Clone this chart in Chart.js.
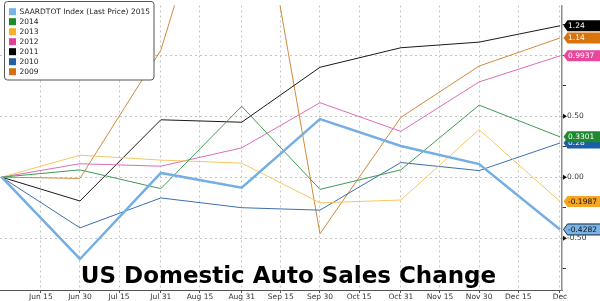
<!DOCTYPE html>
<html>
<head>
<meta charset="utf-8">
<script src="https://cdn.jsdelivr.net/npm/chart.js@4/dist/chart.umd.min.js"></script>
<style>
html,body{margin:0;padding:0;background:#fff;}
#wrap{position:relative;width:600px;height:301px;}
</style>
</head>
<body>
<div id="wrap"><canvas id="c" width="600" height="301"></canvas></div>
<script>
// ---- data ----
const dates = ['2015-05-31','2015-06-30','2015-07-31','2015-08-31','2015-09-30','2015-10-31','2015-11-30','2015-12-31'];
const seriesNames = ['SAARDTOT Index (Last Price) 2015','2014','2013','2012','2011','2010','2009'];
const s2015 = [0, -0.67, 0.035, -0.086, 0.476, 0.255, 0.107, -0.4282];
const s2014 = [0, 0.06, -0.094, 0.58, -0.10, 0.06, 0.59, 0.3301];
const s2013 = [0, 0.18, 0.14, 0.115, -0.21, -0.187, 0.39, -0.1987];
const s2012 = [0, 0.11, 0.09, 0.24, 0.61, 0.375, 0.78, 0.9937];
const s2011 = [0, -0.195, 0.47, 0.45, 0.90, 1.06, 1.106, 1.24];
const s2010 = [0, -0.415, -0.17, -0.25, -0.27, 0.12, 0.054, 0.28];
const s2009 = [0, -0.01, 1.04, 3.2, -0.463, 0.49, 0.91, 1.14];
const lastLabels = ['-0.4282','0.3301','-0.1987','0.9937','1.24','0.28','1.14'];
const tickDates = ['2015-06-15','2015-06-30','2015-07-15','2015-07-31','2015-08-15','2015-08-31','2015-09-15','2015-09-30','2015-10-15','2015-10-31','2015-11-15','2015-11-30','2015-12-15','2015-12-31'];
const tickLabels = ['Jun 15','Jun 30','Jul 15','Jul 31','Aug 15','Aug 31','Sep 15','Sep 30','Oct 15','Oct 31','Nov 15','Nov 30','Dec 15','Dec'];
const yTickValues = [-0.75,-0.5,-0.25,0,0.25,0.5,0.75,1,1.25];
const yTickLabels = ['','-0.50','','0.00','','0.50','','1.00',''];
const titleText = 'US Domestic Auto Sales Change';

// ---- styling ----
const lineColors = ['#74aee2','#3f9a52','#f3c862','#de6cb6','#1a1a1a','#3b6fae','#d08a3c'];
const swatchColors = ['#7ab4e6','#1a8a2a','#f7b02a','#e0409a','#000000','#1f5ea8','#d2730f'];
const tagColors = ['#7ab4e6','#1e8a2e','#f5a623','#e8479c','#000000','#1a5ea8','#d9730d'];
const tagText = ['#111','#fff','#111','#fff','#fff','#fff','#fff'];
const lineWidths = [2.5,1,1,1,1,1,1];

const day0 = Date.parse('2015-05-31');
const toDay = s => (Date.parse(s) - day0) / 86400000;
const allSeries = [s2015,s2014,s2013,s2012,s2011,s2010,s2009];

const datasets = allSeries.map((arr,i)=>({
  label: seriesNames[i],
  data: arr.map((v,j)=>({x: toDay(dates[j]), y: v})),
  borderColor: lineColors[i],
  backgroundColor: swatchColors[i],
  borderWidth: lineWidths[i],
  pointRadius: 0,
  tension: 0,
  fill: false
}));

const FONT = 'DejaVu Sans';

const overlay = {
  id: 'overlay',
  afterDraw(chart) {
    const ctx = chart.ctx;
    const ys = chart.scales.y;
    const ca = chart.chartArea;
    // triangles at major y ticks
    ctx.save();
    ctx.fillStyle = '#111';
    [-0.5,0,0.5].forEach(v=>{
      const py = ys.getPixelForValue(v);
      ctx.beginPath();
      ctx.moveTo(ca.right+1, py-2.5);
      ctx.lineTo(ca.right+5, py);
      ctx.lineTo(ca.right+1, py+2.5);
      ctx.closePath();
      ctx.fill();
    });
    ctx.restore();

    // last value tags (drawn reversed so 2014 tag sits above 2010)
    ctx.save();
    ctx.font = '7.5px "' + FONT + '"';
    ctx.textBaseline = 'middle';
    for (let i = allSeries.length-1; i >= 0; i--) {
      const arr = allSeries[i];
      const py = ys.getPixelForValue(arr[arr.length-1]);
      const x0 = ca.right + 1.5, h = 11, aw = 4;
      ctx.beginPath();
      ctx.moveTo(x0, py);
      ctx.lineTo(x0+aw, py-h/2);
      ctx.lineTo(602, py-h/2);
      ctx.lineTo(602, py+h/2);
      ctx.lineTo(x0+aw, py+h/2);
      ctx.closePath();
      ctx.fillStyle = tagColors[i];
      ctx.fill();
      if (i === 0) { ctx.strokeStyle = '#1a2a3a'; ctx.lineWidth = 1; ctx.stroke(); }
      ctx.fillStyle = tagText[i];
      ctx.fillText(lastLabels[i], x0+aw+0.5, py+0.5);
    }
    ctx.restore();

    // legend box
    ctx.save();
    const lx = 4.5, ly = 1.5, lw = 149.5, lh = 78.5, r = 3;
    ctx.beginPath();
    ctx.moveTo(lx+r, ly);
    ctx.lineTo(lx+lw-r, ly); ctx.quadraticCurveTo(lx+lw, ly, lx+lw, ly+r);
    ctx.lineTo(lx+lw, ly+lh-r); ctx.quadraticCurveTo(lx+lw, ly+lh, lx+lw-r, ly+lh);
    ctx.lineTo(lx+r, ly+lh); ctx.quadraticCurveTo(lx, ly+lh, lx, ly+lh-r);
    ctx.lineTo(lx, ly+r); ctx.quadraticCurveTo(lx, ly, lx+r, ly);
    ctx.closePath();
    ctx.fillStyle = '#fff';
    ctx.fill();
    ctx.strokeStyle = '#555';
    ctx.lineWidth = 1;
    ctx.stroke();
    ctx.font = '7.5px "' + FONT + '"';
    ctx.textBaseline = 'middle';
    chart.data.datasets.forEach((ds,i)=>{
      const cy = 11.7 + i*10;
      ctx.fillStyle = swatchColors[i];
      ctx.fillRect(9, cy-3.5, 7, 7);
      ctx.fillStyle = '#222';
      ctx.fillText(ds.label, 19.5, cy+0.5);
    });
    ctx.restore();

    // title
    ctx.save();
    ctx.font = 'bold 23px "' + FONT + '"';
    ctx.textAlign = 'center';
    ctx.textBaseline = 'alphabetic';
    ctx.fillStyle = '#000';
    ctx.fillText(titleText, 288.5, 282.5);
    ctx.restore();
  }
};

new Chart(document.getElementById('c'), {
  type: 'line',
  data: { datasets },
  options: {
    responsive: false,
    animation: false,
    layout: { padding: 0 },
    plugins: { legend: { display: false }, tooltip: { enabled: false }, title: { display: false } },
    scales: {
      x: {
        type: 'linear',
        min: -0.65,
        max: 214.77,
        afterBuildTicks: s => { s.ticks = tickDates.map(d=>({value: toDay(d)})); },
        afterFit: s => { s.height = 11; },
        ticks: {
          autoSkip: false,
          maxRotation: 0,
          padding: 0,
          color: '#333',
          font: { family: FONT, size: 7.5 },
          callback: (v, i) => tickLabels[i]
        },
        grid: {
          color: '#c4c4c4',
          tickColor: '#555',
          tickLength: 3,
          drawTicks: true
        },
        border: { display: true, color: '#555', width: 1, dash: [2,3] }
      },
      y: {
        type: 'linear',
        position: 'right',
        min: -0.924,
        max: 1.406,
        afterBuildTicks: s => { s.ticks = yTickValues.map(v=>({value: v})); },
        afterFit: s => { s.width = 38; },
        ticks: {
          padding: 1,
          color: '#333',
          font: { family: FONT, size: 7.5 },
          callback: (v, i) => yTickLabels[i]
        },
        grid: {
          color: ctx => (ctx.tick && Math.abs(ctx.tick.value*2 - Math.round(ctx.tick.value*2)) < 1e-6) ? '#c4c4c4' : 'rgba(0,0,0,0)',
          tickColor: '#333',
          tickLength: 4
        },
        border: { display: true, color: '#8c8c8c', width: 1.5, dash: [2,3] }
      }
    }
  },
  plugins: [overlay]
});
</script>
</body>
</html>
